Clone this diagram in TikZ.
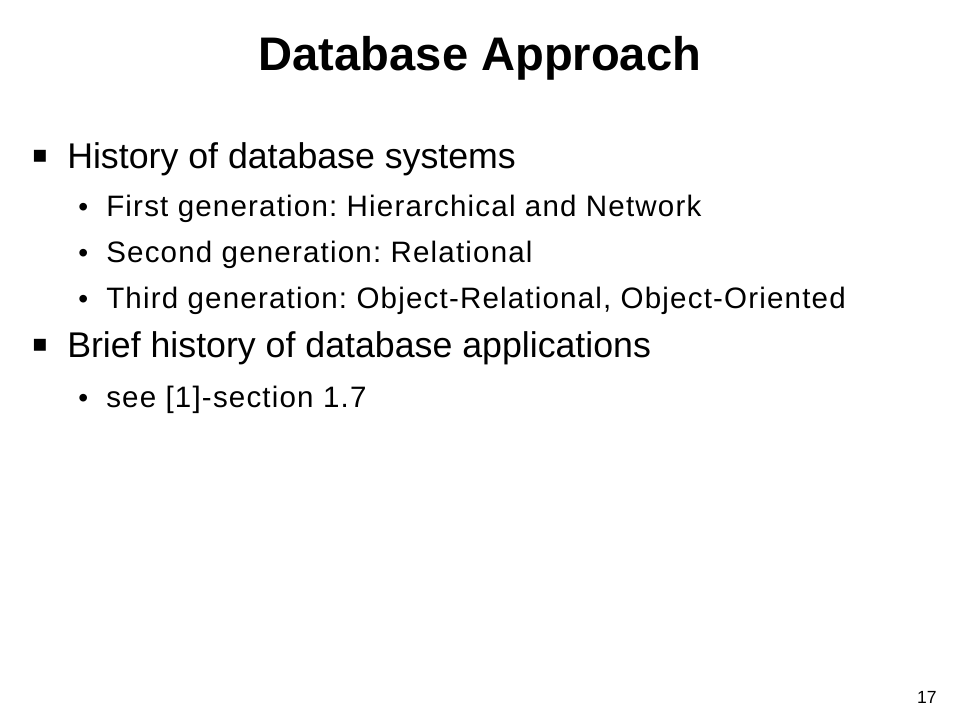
\documentclass[tikz,border=0pt]{standalone}
\usepackage{fontspec}
\setmainfont{Liberation Sans}
\newfontfamily\symfont{DejaVu Sans}
\newfontfamily\subfont[LetterSpace=4.0]{Liberation Sans}
\usetikzlibrary{positioning}
\def\pxunit{0.025cm}
\frenchspacing

\begin{document}
\begin{tikzpicture}[x=\pxunit, y=-\pxunit, inner sep=0pt]
    \tikzstyle{slide text}=[anchor=base west, text=black]
    \tikzstyle{title}=[anchor=base, font=\fontsize{33.5}{40}\selectfont\bfseries]
    \tikzstyle{main item}=[slide text, font=\fontsize{25.4}{30}\selectfont]
    \tikzstyle{sub item}=[slide text, font=\subfont\fontsize{21}{25}\selectfont]
    \tikzstyle{main mark}=[anchor=center, font=\symfont\fontsize{17}{20}\selectfont]
    \tikzstyle{sub mark}=[anchor=base west, font=\fontsize{20}{24}\selectfont]

    % page frame
    \useasboundingbox[fill=white] (0,0) rectangle (960,720);

    % Title
    \node[title] (title) at (480,71) {Database Approach};

    % First main item with its sub items
    \node[main mark] (m-1) at (40,156) {▪};
    \node[main item] (hist) at (67,169) {History of database systems};
    \foreach \name / \y / \txt in {1/217/{First generation: Hierarchical and Network},
                                   2/263/{Second generation: Relational},
                                   3/309/{Third generation: Object-Relational, Object-Oriented}}
    {
        \node[sub mark] (s-\name) at (78,\y) {•};
        \node[sub item] (gen-\name) at (106,\y) {\txt};
    }

    % Second main item
    \node[main mark] (m-2) at (40,345) {▪};
    \node[main item] (brief) at (67,358) {Brief history of database applications};
    \node[sub mark] (s-4) at (78,408) {•};
    \node[sub item] (see) at (106,408) {see [1]-section 1.7};

    % page number
    \node[anchor=base east, font=\fontsize{12.5}{15}\selectfont] (page) at (937,703) {17};
\end{tikzpicture}
\end{document}
